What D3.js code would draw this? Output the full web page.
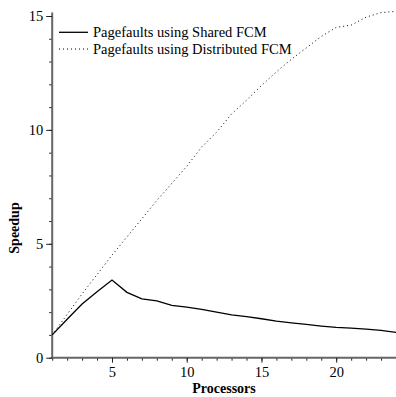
<!DOCTYPE html>
<html>
<head>
<meta charset="utf-8">
<script src="https://cdn.jsdelivr.net/npm/d3@7"></script>
<style>
  body { margin: 0; background: #fff; }
  svg { display: block; font-family: "Liberation Serif", "Times New Roman", serif; }
  .axis path { stroke: #666; stroke-width: 2; }
  .axis line { stroke: #222; stroke-width: 1; }
  .axis text { font-size: 14.5px; fill: #000; font-family: "Liberation Serif", serif; }
  .title { font-size: 14px; font-weight: bold; }
  .legend text { font-size: 14.5px; }
</style>
</head>
<body>
<svg id="chart" width="396" height="397"></svg>
<script>
// processors 1..24
const processors = [1,2,3,4,5,6,7,8,9,10,11,12,13,14,15,16,17,18,19,20,21,22,23,24];
const sharedFCM = [1.0,1.69,2.36,2.9,3.41,2.87,2.58,2.49,2.3,2.22,2.12,2.0,1.88,1.8,1.71,1.61,1.53,1.46,1.39,1.33,1.3,1.25,1.2,1.11];
const distributedFCM = [1.0,1.9,2.8,3.65,4.5,5.3,6.1,6.9,7.65,8.4,9.25,9.9,10.7,11.3,11.95,12.55,13.1,13.6,14.1,14.5,14.6,14.95,15.15,15.2];
const seriesNames = ['Pagefaults using Shared FCM', 'Pagefaults using Distributed FCM'];
const xMajor = [5,10,15,20];
const yMajor = [0,5,10,15];

const svg = d3.select('#chart');

let x = d3.scaleLinear().domain([1, 24]).range([52.2, 396]);
let y = d3.scaleLinear().domain([0, 15]).range([357.7, 16]);

// minor ticks first
svg.append('g')
    .attr('class', 'axis')
    .attr('transform', `translate(0,${y(0)})`)
    .call(d3.axisBottom(x).tickValues(processors).tickSize(3).tickSizeOuter(0).tickFormat(''))
    .select('.domain').remove();
svg.append('g')
    .attr('class', 'axis')
    .attr('transform', `translate(${x(1)},0)`)
    .call(d3.axisLeft(y).tickValues(d3.range(0, 16)).tickSize(3).tickSizeOuter(0).tickFormat(''))
    .select('.domain').remove();

let xAxis = svg.append('g')
    .attr('class', 'axis')
    .attr('transform', `translate(0,${y(0)})`)
    .call(d3.axisBottom(x).tickValues(xMajor).tickSize(5).tickSizeOuter(0).tickPadding(4));
xAxis.select('.domain').attr('d', `M${x(1) - 1},0H${x(24)}`);

let yAxis = svg.append('g')
    .attr('class', 'axis')
    .attr('transform', `translate(${x(1)},0)`)
    .call(d3.axisLeft(y).tickValues(yMajor).tickSize(6).tickSizeOuter(0).tickPadding(3));
yAxis.select('.domain').attr('d', `M0,${y(0) + 1}V${y(15.15)}`);

let line = d3.line()
    .x((d, i) => x(processors[i]))
    .y(d => y(d));

svg.append('path')
    .datum(distributedFCM)
    .attr('d', line)
    .attr('fill', 'none')
    .attr('stroke', '#000')
    .attr('stroke-width', 1)
    .attr('stroke-dasharray', '1,3');

svg.append('path')
    .datum(sharedFCM)
    .attr('d', line)
    .attr('fill', 'none')
    .attr('stroke', '#000')
    .attr('stroke-width', 1.3);

// legend
let legend = svg.append('g').attr('class', 'legend');
seriesNames.forEach(function(name, i){
  let ly = 32.3 + i * 16.7;
  legend.append('line')
      .attr('x1', 59).attr('x2', 88)
      .attr('y1', ly).attr('y2', ly)
      .attr('stroke', '#000')
      .attr('stroke-width', i == 0 ? 1.3 : 1)
      .attr('stroke-dasharray', i == 0 ? null : '1,3');
  legend.append('text')
      .attr('x', 93).attr('y', ly + 4.7)
      .text(name);
});

svg.append('text')
    .attr('class', 'title')
    .attr('text-anchor', 'middle')
    .attr('x', 224).attr('y', 393)
    .text('Processors');

svg.append('text')
    .attr('class', 'title')
    .attr('text-anchor', 'middle')
    .attr('transform', 'translate(19,228) rotate(-90)')
    .text('Speedup');
</script>
</body>
</html>
